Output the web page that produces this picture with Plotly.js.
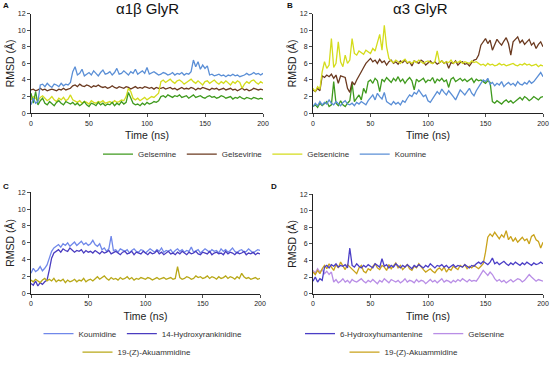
<!DOCTYPE html>
<html><head><meta charset="utf-8">
<script src="https://cdn.plot.ly/plotly-3.0.1.min.js"></script>
<style>html,body{margin:0;padding:0;background:#fff}#chart{width:550px;height:367px}</style>
</head><body><div id="chart"></div>
<script>
// Time axis (ns)
const time = [0,2,4,6,8,10,12,14,16,18,20,22,24,26,28,30,32,34,36,38,40,42,44,46,48,50,52,54,56,58,60,62,64,66,68,70,72,74,76,78,80,82,84,86,88,90,92,94,96,98,100,102,104,106,108,110,112,114,116,118,120,122,124,126,128,130,132,134,136,138,140,142,144,146,148,150,152,154,156,158,160,162,164,166,168,170,172,174,176,178,180,182,184,186,188,190,192,194,196,198,200];

// Panel A: alpha1beta GlyR
const A_gelsemine = [2.4,1.2,2.6,1.0,1.5,1.8,
 1.2,1.0,1.4,1.1,0.9,1.3,1.5,1.2,1.0,1.4,1.2,1.1,
 1.3,1.0,1.2,0.9,1.1,1.4,1.0,0.8,1.2,1.1,0.9,1.3,1.0,1.2,0.9,1.1,1.0,1.3,0.9,1.2,1.0,1.4,1.1,
 1.3,2.5,1.8,1.2,1.0,1.1,0.9,1.2,1.0,1.3,1.1,1.2,1.4,1.3,1.5,
 2.0,2.1,1.9,2.2,2.0,1.9,2.1,2.0,2.2,1.9,2.0,2.1,1.8,2.0,2.2,1.9,2.0,2.1,1.9,1.8,2.0,2.1,1.9,2.0,1.8,1.9,2.1,2.0,1.8,1.9,2.0,1.7,1.9,1.8,2.0,1.8,1.7,1.9,1.8,1.7,1.9,1.8,1.7,1.8,1.7];
const A_gelsevirine = [2.8,2.9,2.7,2.8,3.0,2.8,2.9,2.7,2.8,2.9,2.8,2.7,2.9,2.8,3.0,2.8,2.9,3.0,
 3.3,3.4,3.2,3.5,3.3,3.2,3.4,3.3,3.1,3.3,3.2,3.4,3.2,
 3.1,3.2,3.0,3.1,3.3,3.1,3.0,3.2,3.1,3.0,3.2,3.1,2.9,3.1,3.2,3.0,3.1,3.0,3.2,3.1,3.0,3.1,2.9,3.1,3.0,
 3.0,3.1,2.9,3.0,3.1,2.9,3.0,2.8,3.0,3.1,2.9,3.0,2.9,3.1,3.0,2.8,3.0,2.9,3.1,3.0,2.9,2.8,3.0,2.9,3.0,2.8,2.9,3.0,2.8,2.9,3.0,2.8,2.9,2.7,2.9,3.0,2.8,2.9,2.7,2.8,3.0,2.9,2.8,2.9,2.8];
const A_gelsenicine = [1.6,2.0,1.8,1.5,1.9,2.1,
 1.8,1.5,1.7,2.0,1.6,1.4,1.8,1.6,1.9,1.5,1.7,2.2,
 1.6,1.4,1.3,1.5,1.2,1.4,1.3,1.1,1.5,1.3,1.2,1.4,1.3,1.5,1.2,1.3,1.4,1.2,1.5,1.3,1.4,1.6,1.5,
 2.0,3.0,2.6,1.8,1.6,1.8,1.5,1.7,1.9,1.6,1.8,2.0,1.9,2.2,2.4,
 3.8,4.0,3.7,3.9,4.1,3.8,3.6,3.9,4.0,3.8,3.5,3.7,3.9,4.1,3.8,3.6,3.9,3.7,3.4,3.8,3.9,3.6,3.8,4.0,3.7,3.5,3.8,3.6,3.9,3.7,3.4,3.8,3.6,3.9,3.7,3.0,3.5,3.8,3.6,3.9,4.0,3.7,3.5,3.8,3.6];
const A_koumine = [1.0,1.8,1.2,1.4,3.4,
 3.5,3.2,3.6,3.3,3.1,3.5,3.4,3.2,3.6,3.3,3.5,3.4,3.7,
 5.0,5.6,4.6,4.8,5.3,4.5,4.7,4.9,4.6,5.1,4.8,4.5,4.9,5.2,4.7,4.8,5.0,4.6,4.9,5.4,4.7,4.8,5.1,4.9,4.6,5.0,4.8,5.3,4.7,4.9,5.1,4.8,5.5,4.7,4.9,5.0,4.8,4.6,4.7,4.9,4.8,4.6,4.7,4.9,4.6,4.8,4.7,4.9,4.6,4.8,4.7,5.0,
 6.4,5.6,6.2,5.3,5.8,5.4,5.7,4.6,4.7,4.5,4.6,4.7,4.5,4.6,4.4,4.6,4.5,4.7,4.5,4.6,4.4,4.5,4.6,4.8,4.6,4.7,4.9,4.7,4.8,4.6,4.8];

// Panel B: alpha3 GlyR
const B_gelsemine = [0.8,1.0,0.7,1.2,0.9,1.1,1.4,0.8,1.0,3.8,1.2,0.9,1.5,1.0,0.8,1.2,
 1.5,3.6,1.4,1.8,2.2,1.6,3.0,2.4,
 3.8,4.0,3.6,4.2,3.9,2.6,4.1,3.8,4.3,4.0,3.7,4.2,3.9,4.4,3.8,4.1,3.6,4.0,4.3,3.9,2.8,4.1,3.8,4.0,4.2,3.7,4.0,3.9,4.3,3.6,4.1,3.9,4.2,3.8,4.0,3.1,4.1,4.3,3.8,4.0,4.2,3.9,4.1,3.8,4.0,4.2,3.7,4.1,3.9,4.0,3.8,3.6,3.9,3.7,
 1.4,1.2,1.5,1.3,1.1,1.4,1.6,1.3,1.5,1.2,1.4,1.7,1.9,1.6,2.0,1.8,1.5,1.7,2.0,1.8,1.6,1.9,2.0];
const B_gelsevirine = [2.8,2.6,3.0,2.7,
 4.5,4.3,4.6,4.4,4.7,4.2,4.6,3.6,4.5,4.4,4.3,
 3.0,2.5,3.8,3.4,4.0,4.6,5.0,
 5.5,6.0,6.3,6.6,6.2,6.4,6.0,6.5,6.1,6.3,5.8,6.2,6.4,6.0,6.2,5.9,6.3,6.1,6.4,6.0,6.2,5.7,6.3,6.1,6.0,6.4,6.2,5.8,6.1,6.3,6.0,6.2,5.9,6.1,6.3,6.0,6.2,5.4,6.1,6.0,6.3,5.8,6.1,6.2,5.9,6.0,5.7,6.1,6.4,6.5,7.0,
 8.2,8.6,9.0,8.4,8.8,7.6,8.3,8.9,8.5,8.2,8.7,9.1,8.4,7.0,8.6,8.9,9.2,8.5,8.8,8.3,8.6,8.9,8.2,8.5,7.8,8.3,8.6,8.0];
const B_gelsenicine = [3.0,2.6,3.2,2.9,
 5.0,6.2,5.4,5.8,9.0,5.5,6.0,8.6,6.2,5.6,7.0,6.0,6.4,9.0,
 7.2,7.0,7.5,7.3,7.1,7.6,7.4,7.2,7.8,7.5,
 8.5,9.5,7.6,10.6,8.0,6.6,
 6.3,6.1,6.4,6.2,6.0,6.3,6.5,6.1,6.2,6.0,6.3,6.1,6.4,6.2,6.0,6.2,6.3,6.1,6.0,6.2,7.5,6.1,6.3,6.0,6.2,6.1,6.4,6.0,6.2,6.1,6.3,6.0,6.2,6.1,6.0,6.3,6.1,6.2,6.0,
 5.8,5.9,5.7,6.0,5.8,5.9,5.7,5.8,6.0,5.8,5.9,5.7,5.8,5.9,6.0,5.8,5.7,5.9,5.8,6.0,5.8,5.9,5.7,5.8,5.9,5.6,5.8,5.7];
const B_koumine = [0.8,1.2,0.9,1.4,1.0,1.3,1.1,1.6,1.2,1.0,1.4,1.2,0.9,1.3,1.5,1.1,1.0,1.2,0.9,1.3,1.1,1.4,1.2,1.0,1.5,
 1.8,2.2,1.6,2.4,2.0,1.7,2.5,1.4,
 1.2,1.0,1.4,1.1,1.3,1.0,1.5,1.3,
 1.8,2.2,2.0,2.5,2.3,2.8,2.4,2.0,2.2,1.5,1.3,1.7,2.1,2.6,2.3,2.9,2.5,2.2,2.7,2.4,2.0,1.6,2.3,2.8,2.5,2.2,2.6,3.0,2.4,2.1,2.7,3.2,
 3.6,4.0,3.8,4.2,3.5,3.7,3.3,3.6,3.4,3.8,3.2,3.5,3.7,3.4,3.6,3.3,3.8,3.5,3.4,3.7,3.5,3.9,3.6,3.8,4.2,4.6,4.9,4.4];

// Panel C
const C_koumidine = [2.4,3.0,2.6,2.8,3.2,2.7,3.0,3.4,
 4.2,5.0,5.4,
 5.6,5.8,5.5,5.9,5.7,6.0,5.6,5.8,6.1,5.7,5.9,6.2,5.8,6.0,5.7,5.9,6.3,5.8,5.6,5.9,
 5.2,5.4,5.0,5.3,6.8,5.1,5.2,4.9,5.3,5.1,
 5.0,5.2,4.8,5.1,5.3,5.0,4.9,5.2,5.1,4.8,
 5.0,5.3,5.1,4.9,5.2,5.0,5.4,4.9,5.1,5.0,
 5.2,4.8,5.1,5.3,5.0,5.2,4.9,5.1,5.0,5.5,
 4.9,5.1,5.2,4.8,5.0,5.3,5.1,4.9,5.2,5.0,
 5.1,4.8,5.3,5.0,5.2,4.9,5.1,5.4,5.0,4.8,
 5.1,5.2,4.9,5.0,5.3,5.1,4.8,5.0,5.2,5.1];
const C_hydroxyrankinidine = [1.2,1.0,1.5,0.9,1.3,1.1,1.4,1.6,
 2.8,4.2,4.8,
 5.0,5.2,4.9,5.3,5.1,5.0,5.4,5.2,4.9,5.1,
 5.0,5.2,4.8,5.1,4.9,5.0,4.8,5.1,4.9,4.7,
 5.0,4.8,4.9,5.1,4.7,4.9,5.0,4.8,4.6,4.9,
 5.0,4.7,4.8,5.0,4.6,4.9,4.8,4.7,5.0,4.8,
 4.6,4.9,4.7,4.8,5.1,4.7,4.9,4.6,4.8,5.0,
 4.7,4.8,4.6,4.9,4.7,5.0,4.8,4.6,4.9,4.7,
 4.8,5.0,4.7,4.6,4.9,4.8,4.7,5.0,4.6,4.8,
 4.9,4.7,4.8,4.6,5.0,4.7,4.9,4.8,4.6,4.9,
 4.7,4.8,5.0,4.6,4.8,4.7,4.9,4.6,4.8,4.7];
const C_akuammidine = [1.6,1.4,1.7,1.5,1.3,1.6,1.8,1.5,
 1.7,1.5,1.8,1.4,1.6,1.5,1.7,1.3,1.6,1.4,
 1.5,1.7,1.4,1.6,1.5,1.8,1.4,1.6,1.7,1.5,
 1.8,2.0,1.7,1.9,2.1,1.8,1.6,1.9,1.7,1.8,
 1.6,1.9,1.7,1.8,2.0,1.7,1.9,1.6,1.8,1.7,
 1.9,1.8,1.7,1.9,1.8,1.6,1.8,1.9,1.7,1.8,
 1.9,1.7,1.8,1.9,1.7,1.8,3.2,1.9,1.7,1.8,
 2.0,1.9,1.7,1.8,2.1,1.9,2.0,1.8,1.9,2.1,
 1.8,2.0,1.9,1.7,2.0,1.8,1.9,2.1,1.8,2.0,
 1.9,1.7,2.0,1.8,2.4,2.0,1.8,1.9,1.7,1.8,
 1.9,1.7,1.8];

// Panel D
const D_hydroxyhumantenine = [1.5,2.0,1.4,1.8,1.6,
 3.2,3.4,3.1,3.5,3.3,3.6,3.2,3.4,3.3,3.5,
 3.1,5.5,3.4,3.2,3.6,3.3,3.1,3.4,3.2,3.5,
 3.3,3.1,3.6,3.4,3.2,4.2,3.3,3.5,3.1,3.4,
 3.2,3.6,3.3,3.1,3.4,3.2,3.5,3.3,3.0,3.4,
 3.2,3.5,3.3,3.1,3.4,3.2,3.6,3.3,3.1,3.4,
 3.3,3.5,3.2,3.4,3.1,3.3,3.5,3.2,3.4,3.3,
 3.2,3.5,3.3,3.1,3.4,3.3,3.6,3.8,3.6,3.9,
 3.7,3.5,3.8,4.3,3.6,3.8,3.5,3.7,3.9,3.6,
 3.4,3.7,3.5,3.8,3.6,3.4,3.7,3.5,3.8,3.6,
 3.4,3.7,3.5,3.6,3.8,3.6];
const D_gelsenine = [2.8,2.5,3.0,2.6,2.9,2.4,2.7,2.3,2.6,
 1.4,1.7,1.3,1.5,1.8,1.4,1.6,1.3,1.7,1.5,
 1.4,1.6,1.8,1.5,1.3,1.6,1.4,1.7,1.5,1.2,
 1.6,1.4,1.8,1.5,1.3,1.7,1.5,1.4,1.6,1.3,
 1.5,1.8,1.4,1.6,1.5,1.3,1.7,1.4,1.6,1.5,
 1.2,1.5,1.7,1.4,1.6,1.3,1.5,1.8,1.4,1.6,
 1.5,1.3,1.6,1.4,1.7,1.5,1.8,1.6,1.4,1.7,
 1.5,1.6,1.5,1.9,2.4,2.8,2.5,2.2,2.6,2.3,
 1.8,1.5,1.7,1.4,1.6,1.3,1.5,1.7,1.4,1.6,
 1.8,1.7,1.4,1.6,1.9,2.3,2.0,1.8,1.5,1.7,
 1.6,1.5];
const D_akuammidine = [2.6,2.3,2.8,2.4,3.0,
 3.4,3.0,3.6,3.2,2.8,3.5,3.1,3.8,3.3,2.9,
 3.5,3.2,3.0,2.6,2.4,3.1,3.4,2.7,2.5,3.0,
 2.8,3.3,3.6,3.1,2.9,3.4,3.2,2.8,3.5,3.0,
 3.3,3.7,3.1,3.4,2.9,3.2,3.5,3.0,2.8,3.3,
 3.1,3.6,3.2,2.9,2.6,2.8,3.0,2.7,2.5,2.9,
 3.1,2.8,3.2,2.6,3.0,2.8,3.3,3.1,2.9,3.4,
 3.2,3.5,3.0,3.3,3.1,3.4,3.2,3.0,3.3,3.6,
 5.0,6.8,7.2,6.9,7.4,7.0,6.6,7.1,6.8,7.6,6.5,6.9,6.3,6.7,6.2,6.5,6.8,6.4,6.6,6.0,6.9,7.1,6.5,6.3,5.5,6.2];

const yTicks = [0,2,4,6,8,10,12];
const xTicks = [0,50,100,150,200];

const FONT = 'Arial, "Liberation Sans", sans-serif';
function tr(y, name, color, xa, ya, legend, show) {
  return {x: time, y: y, name: name, type: 'scatter', mode: 'lines',
    line: {color: color, width: 1.3}, xaxis: xa, yaxis: ya,
    legend: legend, showlegend: show};
}
const traces = [
  tr(A_gelsevirine, 'Gelsevirine', '#6b3a20', 'x', 'y', 'legend', false),
  tr(A_gelsenicine, 'Gelsenicine', '#d4dc1c', 'x', 'y', 'legend', false),
  tr(A_gelsemine, 'Gelsemine', '#3f9a1e', 'x', 'y', 'legend', false),
  tr(A_koumine, 'Koumine', '#5b8fd6', 'x', 'y', 'legend', false),
  tr(B_gelsemine, 'Gelsemine', '#3f9a1e', 'x2', 'y2', 'legend', true),
  tr(B_gelsevirine, 'Gelsevirine', '#6b3a20', 'x2', 'y2', 'legend', true),
  tr(B_gelsenicine, 'Gelsenicine', '#d4dc1c', 'x2', 'y2', 'legend', true),
  tr(B_koumine, 'Koumine', '#5b8fd6', 'x2', 'y2', 'legend', true),
  tr(C_koumidine, 'Koumidine', '#7088ea', 'x3', 'y3', 'legend2', true),
  tr(C_hydroxyrankinidine, '14-Hydroxyrankinidine', '#4a3cc0', 'x3', 'y3', 'legend2', true),
  tr(C_akuammidine, '19-(Z)-Akuammidine', '#b8a818', 'x3', 'y3', 'legend3', true),
  tr(D_gelsenine, 'Gelsenine', '#b98ee6', 'x4', 'y4', 'legend4', true),
  tr(D_akuammidine, '19-(Z)-Akuammidine', '#c9a21a', 'x4', 'y4', 'legend5', true),
  tr(D_hydroxyhumantenine, '6-Hydroxyhumantenine', '#4b3ec6', 'x4', 'y4', 'legend4', true)
];
traces[13].legendrank = 1; traces[11].legendrank = 2;

const W = 550, H = 367;
function xd(a, b) { return [a / W, b / W]; }
function yd(top, bottom) { return [1 - bottom / H, 1 - top / H]; }
function xax(dom, anchor) {
  return {domain: dom, anchor: anchor, range: [0, 200], tickvals: xTicks,
    ticks: 'outside', ticklen: 3, tickwidth: 0.8, tickcolor: '#222',
    showline: true, linecolor: '#222', linewidth: 1, showgrid: false, zeroline: false,
    tickfont: {size: 7, family: FONT, color: '#222'},
    title: {text: 'Time (ns)', font: {size: 10.5, family: FONT, color: '#222'}, standoff: 6}};
}
function yax(dom, anchor) {
  return {domain: dom, anchor: anchor, range: [0, 12], tickvals: yTicks,
    ticks: 'outside', ticklen: 3, tickwidth: 0.8, tickcolor: '#222',
    showline: true, linecolor: '#222', linewidth: 1, showgrid: false, zeroline: false,
    tickfont: {size: 7, family: FONT, color: '#222'},
    title: {text: 'RMSD (Å)', font: {size: 10.5, family: FONT, color: '#222'}, standoff: 1}};
}
function leg(x, y) {
  return {orientation: 'h', x: x, y: y, xanchor: 'center', yanchor: 'middle',
    font: {size: 8, family: FONT, color: '#333'}, bgcolor: 'rgba(0,0,0,0)',
    itemwidth: 30, tracegroupgap: 0, traceorder: 'normal'};
}
const layout = {
  width: W, height: H, margin: {l: 0, r: 0, t: 0, b: 0},
  paper_bgcolor: '#fff', plot_bgcolor: '#fff',
  font: {family: FONT},
  xaxis: xax(xd(31, 263), 'y'),
  yaxis: yax(yd(14, 116), 'x'),
  xaxis2: xax(xd(313, 543), 'y2'),
  yaxis2: yax(yd(14, 116), 'x2'),
  xaxis3: xax(xd(31, 260), 'y3'),
  yaxis3: yax(yd(197, 301), 'x3'),
  xaxis4: xax(xd(313, 543), 'y4'),
  yaxis4: yax(yd(199, 301), 'x4'),
  legend: leg(265 / W, 1 - 158 / H),
  legend2: leg(143 / W, 1 - 342 / H),
  legend3: leg(137 / W, 1 - 361 / H),
  legend4: leg(405 / W, 1 - 342 / H),
  legend5: leg(404 / W, 1 - 361 / H),
  annotations: [
    {text: '<b>A</b>', x: 6 / W, y: 1 - 6 / H},
    {text: '<b>B</b>', x: 290 / W, y: 1 - 6 / H},
    {text: '<b>C</b>', x: 6 / W, y: 1 - 191 / H},
    {text: '<b>D</b>', x: 274 / W, y: 1 - 191 / H},
    {text: 'α1β GlyR', x: 147 / W, y: 1 - 9 / H, size: 15},
    {text: 'α3 GlyR', x: 420 / W, y: 1 - 9 / H, size: 15}
  ].map(a => ({text: a.text, x: a.x, y: a.y, xref: 'paper', yref: 'paper',
    xanchor: 'center', yanchor: 'middle', showarrow: false,
    font: {size: a.size || 8, family: FONT, color: '#111'}}))
};
Plotly.newPlot('chart', traces, layout, {displayModeBar: false, staticPlot: true});
</script>
</body></html>
